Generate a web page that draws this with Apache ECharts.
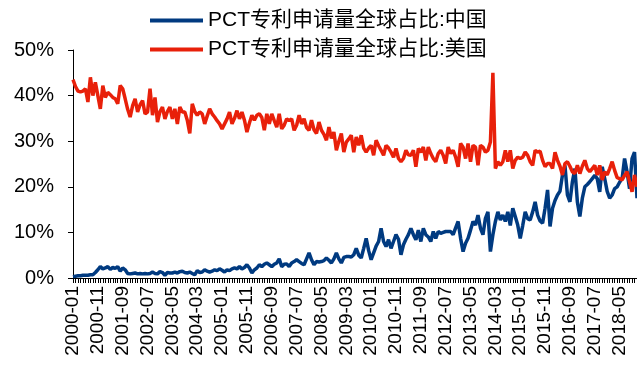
<!DOCTYPE html>
<html><head><meta charset="utf-8">
<script src="https://cdn.jsdelivr.net/npm/echarts@6/dist/echarts.min.js"></script>
<style>html,body{margin:0;padding:0;background:#fff}#c{width:637px;height:371px}</style>
</head><body><div id="c"></div>
<script>
var startYear = 2000, monthCount = 228;
var seriesNames = ['PCT专利申请量全球占比:中国', 'PCT专利申请量全球占比:美国'];
var yTicks = [0, 10, 20, 30, 40, 50];
var china = [
0.3,0.4,0.5,0.5,0.6,0.6,0.6,0.7,0.7,1.2,
1.8,2.5,2.0,2.2,2.5,1.9,2.3,2.1,2.5,1.5,
2.2,1.8,1.0,0.9,1.0,1.1,0.9,1.0,0.9,1.0,
0.9,1.0,1.3,1.0,0.9,1.4,1.2,0.6,1.2,1.1,
1.1,1.3,1.1,1.4,1.5,1.2,1.1,1.3,1.0,0.7,
1.6,1.2,1.3,1.8,1.5,1.3,1.5,1.8,1.6,2.0,
1.7,1.3,1.8,1.6,2.0,2.2,2.0,2.5,2.0,2.3,
2.9,2.2,1.1,1.8,2.2,2.9,2.5,3.0,3.3,2.9,
2.5,3.0,3.3,4.2,2.5,3.0,3.1,2.5,3.3,3.6,
4.0,3.6,3.2,2.9,4.2,5.5,4.0,2.9,3.6,3.5,
3.6,3.8,4.4,3.9,3.3,4.2,5.5,4.2,3.3,4.5,
4.7,4.7,4.6,5.1,6.5,5.0,4.4,6.5,8.7,6.0,
4.0,5.5,7.0,8.0,10.9,8.0,6.9,8.4,6.5,8.0,
9.5,8.5,5.1,7.3,8.5,9.5,10.9,9.5,8.4,10.5,
8.0,10.9,9.5,9.0,8.0,10.2,8.7,10.2,9.8,10.0,
10.2,10.2,10.2,9.5,11.0,12.4,8.7,5.8,7.6,8.7,
10.5,12.4,11.6,13.8,10.9,9.5,13.1,14.5,5.8,9.5,
12.4,14.5,12.7,13.8,12.4,14.5,11.5,15.3,13.5,11.6,
8.7,11.5,14.5,13.0,12.7,14.5,16.7,13.8,12.5,12.0,
15.3,19.3,11.3,15.3,17.0,18.2,19.0,22.6,24.7,18.2,
16.7,21.1,24.0,16.7,13.5,17.5,20.0,20.5,21.1,21.8,
22.5,21.8,18.9,24.4,21.8,19.0,17.5,18.2,19.6,20.0,
21.0,21.8,26.2,23.3,19.6,26.2,27.6,17.5
];
var usa = [
43.5,42,41,40.8,41,41.5,38.6,44,40,42.9,
40,37.1,42.2,39.6,40.7,40.2,39.6,39.3,38.2,42.2,
41.5,39.3,37,35.3,37.8,39.3,36.4,38,38.9,36,
36.4,41.5,35.7,39.6,34.2,36.5,37.5,34.9,36.5,37.5,
34.9,37.1,33.8,37.5,36.4,36.4,34.6,31.7,38.2,36.5,
35.7,36.4,36,33.8,35.5,37.1,36,35.3,34.5,33.8,
32.7,33.8,34.9,36.4,33.8,35,36.7,34.9,36.4,34.6,
32,34,35.7,34.6,35.7,36,35.2,32.4,36,33.8,
36,34.5,33.1,36,32.7,33.5,34.9,34.5,34.9,32.4,
33.5,35.7,33.8,34.9,33,32.4,34.6,32.5,31.7,34.2,
32.4,31.5,30.2,33.1,30.6,32,28,30,31.7,27.6,
29.8,30.5,31.3,27.6,30.9,29.1,31.3,28.5,27.6,28.5,
29.1,26.9,30.2,29,28,26.9,29.1,28.5,27.6,26.5,
28.4,26.2,25.5,26.2,28,27,26.9,28,24.4,28.4,
27.6,28.7,25.8,28.7,27.3,26.2,25.5,27.3,28,26.9,
25.1,28.7,27.3,28,26.5,24.4,29.5,28.7,26.2,29.5,
25.5,29.1,28.7,24.7,29.1,28.7,27.6,28,29.8,45,
24,25.5,24.7,25.5,28,25.5,28,24,25.8,26.5,
26.2,26.5,27.6,26.9,25.5,24.7,28,27.6,27.8,25.8,
24.4,25.1,25.1,24,27.6,25.8,24.5,22.6,25.1,25.5,
24.5,23.3,22.9,24.7,22.9,24.5,25.8,24,23.3,24,
24.7,22.6,24.7,21.5,23.3,22.6,24,25.5,23.6,22,
21.8,21.5,22.5,23.3,21.1,18.9,22.6,20
];
var months = [];
for (var i = 0; i < monthCount; i++) {
  var y = startYear + Math.floor(i / 12), m = i % 12 + 1;
  months.push(y + '-' + (m < 10 ? '0' + m : m));
}
var FONT = '"Liberation Sans", Arial, "Noto Sans CJK SC", sans-serif';
var chart = echarts.init(document.getElementById('c'), null, {renderer: 'canvas'});
chart.setOption({
  animation: false,
  backgroundColor: '#fff',
  textStyle: {fontFamily: FONT, color: '#000'},
  legend: {
    orient: 'vertical', left: 145, top: 5, itemWidth: 53, itemHeight: 4, itemGap: 8,
    icon: 'rect',
    textStyle: {fontFamily: FONT, fontSize: 21, color: '#000'},
    data: seriesNames
  },
  grid: {left: 73, right: 0, top: 50, bottom: 93, containLabel: false},
  xAxis: {
    type: 'category', data: months, boundaryGap: false,
    axisLine: {show: true, lineStyle: {color: '#000', width: 1}},
    axisTick: {show: true, interval: 0, length: 5, lineStyle: {color: '#000'}},
    axisLabel: {interval: 9, rotate: 90, fontSize: 19, color: '#000', fontFamily: FONT, margin: 8},
    splitLine: {show: false}
  },
  yAxis: {
    type: 'value', min: yTicks[0], max: yTicks[yTicks.length - 1], interval: 10,
    axisLine: {show: true, lineStyle: {color: '#000', width: 1}},
    axisTick: {show: true, length: 5, lineStyle: {color: '#000'}},
    axisLabel: {formatter: '{value}%', fontSize: 20, color: '#000', fontFamily: FONT, margin: 19},
    splitLine: {show: false}
  },
  series: [
    {name: seriesNames[0], type: 'line', data: china, showSymbol: false, symbol: 'none',
     lineStyle: {color: '#003A80', width: 3.5}, itemStyle: {color: '#003A80'}},
    {name: seriesNames[1], type: 'line', data: usa, showSymbol: false, symbol: 'none',
     lineStyle: {color: '#E8200A', width: 3.5}, itemStyle: {color: '#E8200A'}}
  ]
});
</script></body></html>
